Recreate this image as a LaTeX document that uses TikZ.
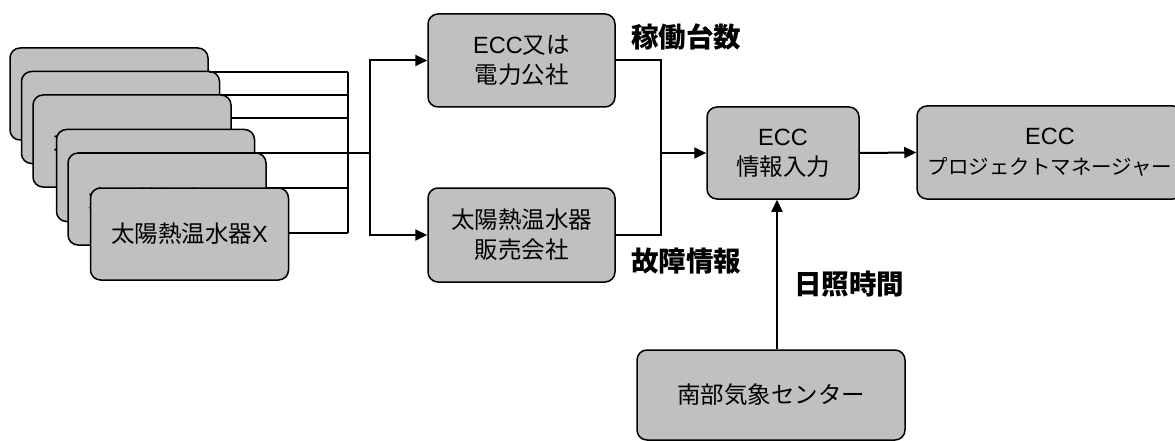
\documentclass[tikz,border=0pt]{standalone}
\usepackage{fontspec}
\setmainfont{Noto Sans CJK JP}
\newfontfamily\latf{Liberation Sans}
\newcommand{\lat}[1]{{\latf #1}}
\usetikzlibrary{arrows.meta}
\definecolor{boxgray}{HTML}{C0C0C0}
\tikzset{
  box/.style={draw=black, line width=1.5pt, fill=boxgray, rounded corners=10pt,
    inner sep=0pt, align=center, font=\fontsize{23.5}{30}\selectfont},
  ln/.style={draw=black, line width=2pt},
  arr/.style={ln, -{Triangle[length=12pt,width=11pt]}},
  lbl/.style={font=\fontsize{27.5}{32}\selectfont\bfseries, inner sep=0pt},
}
\begin{document}
\begin{tikzpicture}[x=1pt,y=-1pt]
\useasboundingbox (0,0) rectangle (1175,441);
\clip (0,0) rectangle (1175,441);
\coordinate (bus) at (348,0);
\coordinate (split) at (370,0);
\coordinate (merge) at (661,0);
\coordinate (sun) at (777,0);
% stacked boxes
\node[box, minimum width=198pt, minimum height=92pt] (b1) at (109,94) {太陽熱温水器\lat{X}};
\node[box, minimum width=198pt, minimum height=92pt] (b2) at (120.5,117.5) {太陽熱温水器\lat{X}};
\node[box, minimum width=198pt, minimum height=92pt] (b3) at (132,141) {太陽熱温水器\lat{X}};
\node[box, minimum width=198pt, minimum height=92pt] (b4) at (155.5,175.5) {太陽熱温水器\lat{X}};
\node[box, minimum width=198pt, minimum height=92pt] (b5) at (167,199) {太陽熱温水器\lat{X}};
\node[box, minimum width=198pt, minimum height=92pt] (b6) at (189.5,234) {太陽熱温水器\lat{X}};
% other boxes
\node[box, minimum width=187pt, minimum height=93pt] (ecc) at (521.5,60.5) {\lat{ECC}又は\\電力公社};
\node[box, minimum width=187pt, minimum height=94pt] (sales) at (521.5,235) {太陽熱温水器\\販売会社};
\node[box, minimum width=152pt, minimum height=92pt] (info) at (783,153) {\lat{ECC}\\情報入力};
\node[box, minimum width=266pt, minimum height=93pt] (pm) at (1050,152.5) {\lat{ECC}\\{\fontsize{20.5}{30}\selectfont プロジェクトマネージャー}};
\node[box, minimum width=268pt, minimum height=90pt] (nambu) at (771,395) {南部気象センター};
% stack connectors
\draw[ln] (b1.east |- 0,72) -- (bus |- 0,72);
\draw[ln] (b2.east |- 0,95) -- (bus |- 0,95);
\draw[ln] (b3.east |- 0,118) -- (bus |- 0,118);
\draw[ln] (b4.east |- 0,153) -- (split |- 0,153);
\draw[ln] (b5.east |- 0,188) -- (bus |- 0,188);
\draw[ln] (b6.east |- 0,233) -- (bus |- 0,233);
\draw[ln] (bus |- 0,72) -- (bus |- 0,233);
\draw[arr] (split |- 0,153) |- (ecc.west);
\draw[arr] (split |- 0,153) |- (sales.west);
% merge to info
\draw[ln] (ecc.east) -| (merge |- info.west);
\draw[ln] (sales.east) -| (merge |- info.west);
\draw[arr] (merge |- info.west) -- (info.west);
\draw[arr] (info.east) -- (pm.west);
\draw[arr] (sun |- nambu.north) -- (sun |- info.south);
% labels
\node[lbl, anchor=west] (l1) at (631,37) {稼働台数};
\node[lbl, anchor=west] (l2) at (631,261) {故障情報};
\node[lbl, anchor=west] (l3) at (794,284) {日照時間};
\end{tikzpicture}
\end{document}
